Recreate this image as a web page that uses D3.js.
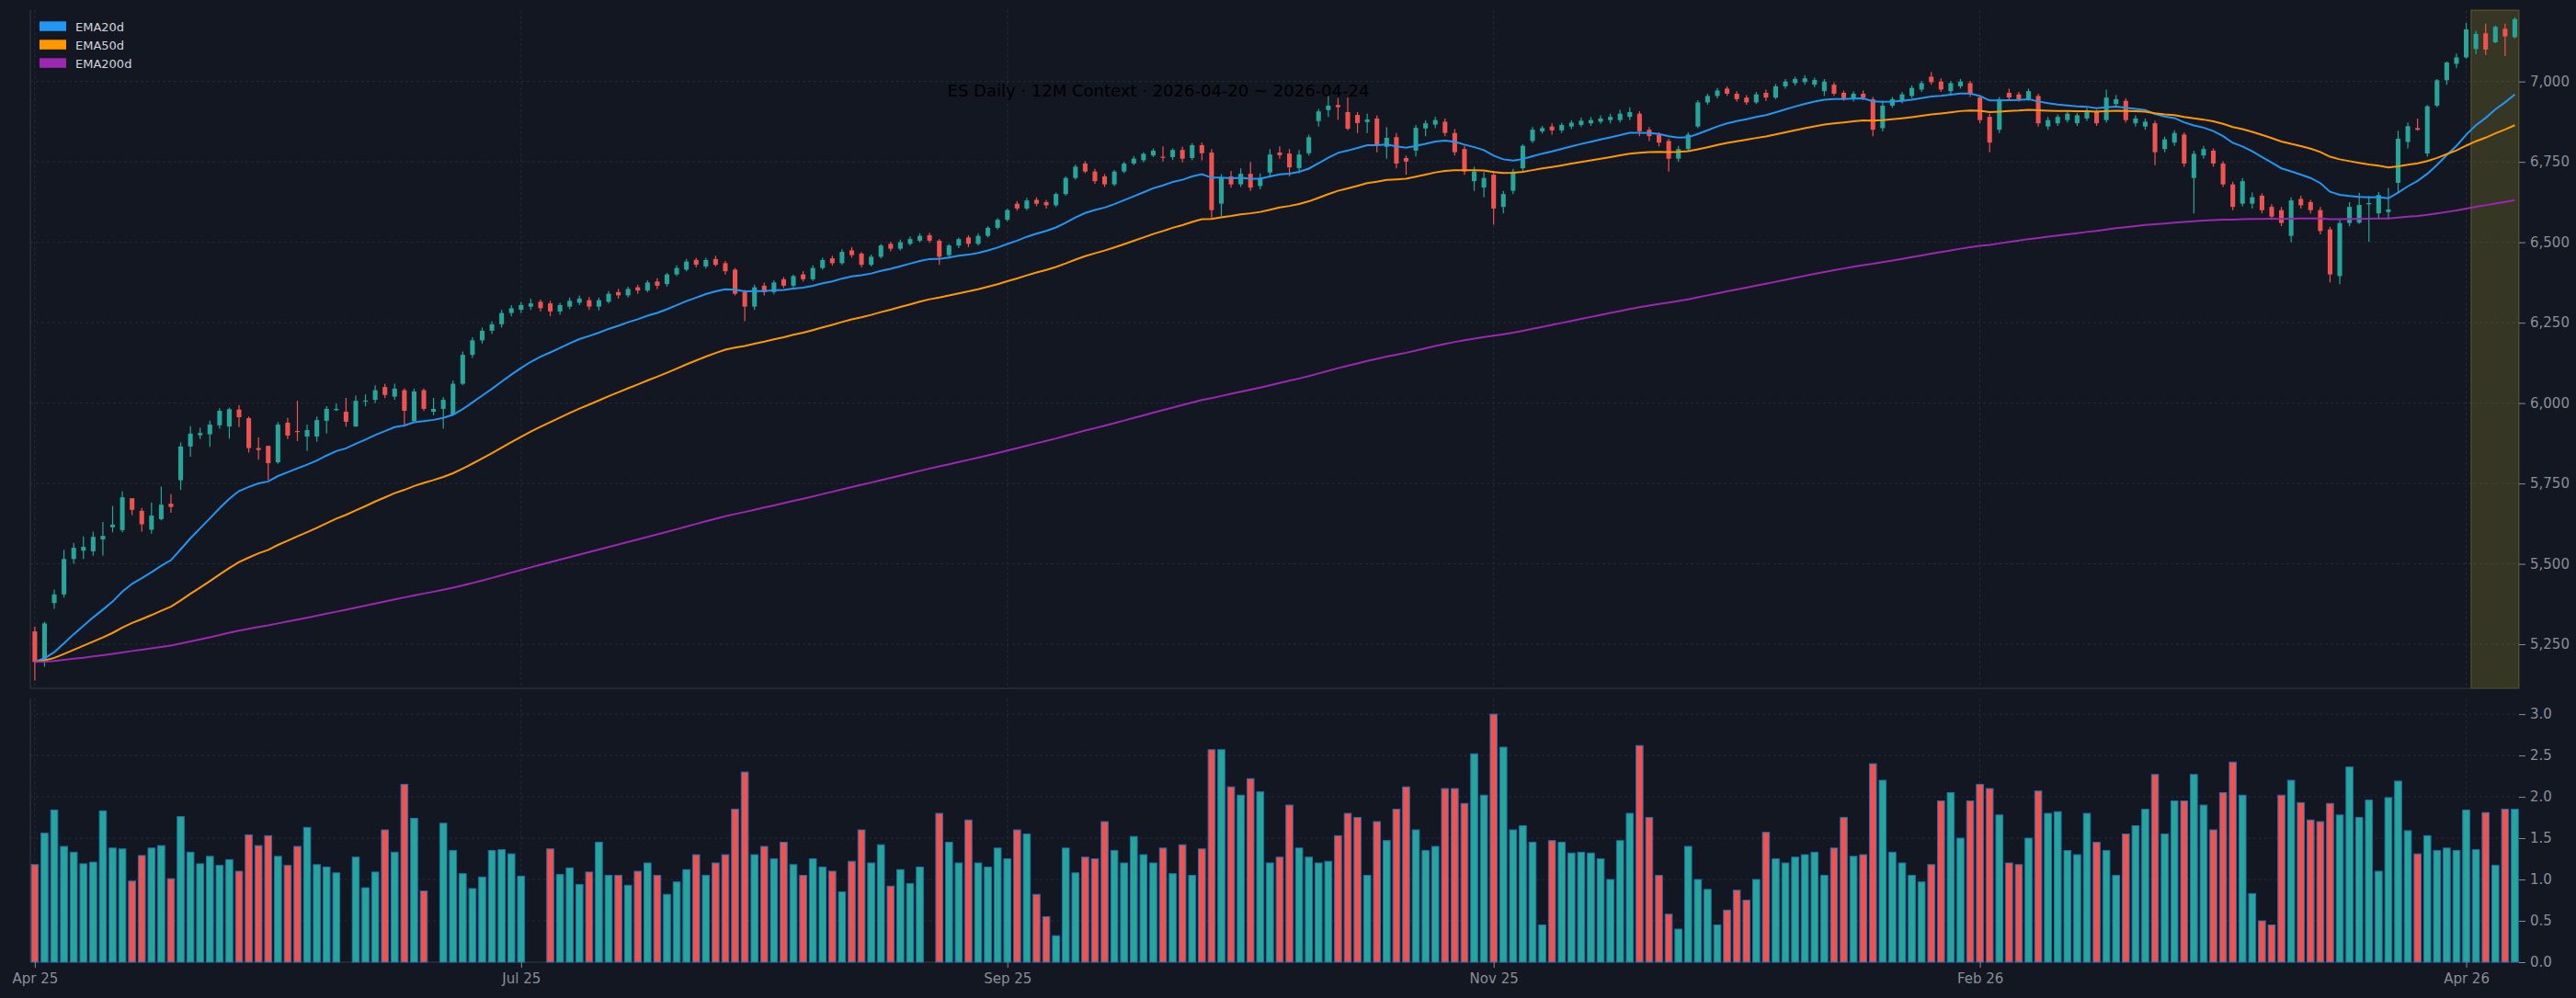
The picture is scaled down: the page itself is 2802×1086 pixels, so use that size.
<!DOCTYPE html>
<html>
<head>
<meta charset="utf-8">
<script src="https://cdn.jsdelivr.net/npm/d3@7"></script>
<style>
  body { margin: 0; background: #131722; }
  svg { display: block; font-family: "DejaVu Sans", sans-serif; }
</style>
</head>
<body>
<script>
// ES daily bars, oldest first (index 0 .. 255)
const open = [
  5290,5195,5378,5405,5515,5541,5539,5576,5614,5605,5704,5665,5606,5639,5687,5760,
  5865,5900,5903,5931,5927,5980,5953,5860,5867,5816,5939,5913,5896,5896,5945,5978,
  5973,5927,6005,6010,6050,6020,6040,5944,6040,5973,5982,5964,6060,6150,6195,6225,
  6245,6280,6290,6300,6315,6310,6285,6300,6312,6320,6300,6315,6345,6335,6360,6350,
  6378,6370,6400,6415,6445,6425,6448,6435,6415,6345,6300,6365,6345,6385,6365,6400,
  6385,6420,6450,6435,6475,6465,6430,6455,6495,6480,6495,6505,6522,6505,6460,6490,
  6515,6495,6520,6545,6570,6620,6605,6632,6625,6615,6650,6700,6745,6720,6705,6680,
  6720,6745,6755,6770,6766,6765,6787,6762,6802,6779,6620,6705,6680,6713,6675,6717,
  6779,6776,6731,6777,6877,6911,6927,6905,6896,6874,6885,6797,6827,6762,6785,6854,
  6866,6875,6840,6790,6690,6670,6710,6610,6660,6730,6815,6845,6860,6848,6860,6865,
  6870,6875,6880,6880,6890,6900,6850,6835,6815,6760,6790,6860,6935,6955,6978,6962,
  6950,6935,6965,6950,6985,6995,6998,6990,6970,6990,6965,6945,6962,6945,6855,6925,
  6940,6955,6975,7015,7000,6970,6985,6995,6950,6890,6850,6965,6960,6945,6955,6860,
  6870,6880,6870,6885,6905,6880,6930,6940,6870,6860,6870,6790,6810,6835,6700,6770,
  6785,6745,6680,6620,6620,6645,6610,6600,6520,6635,6625,6600,6540,6395,6560,6561,
  6618,6590,6594,6685,6812,6855,6776,6925,7004,7055,7075,7101,7150,7122,7164,7138
];
const high = [
  5305,5320,5420,5544,5565,5585,5600,5630,5680,5725,5704,5674,5690,5740,5717,5878,
  5928,5923,5945,5984,5986,5994,5958,5893,5867,5941,5954,6007,5933,5958,5990,5999,
  6016,6023,6027,6055,6060,6060,6045,6045,6045,6016,6018,6070,6160,6205,6235,6255,
  6290,6305,6315,6325,6322,6318,6312,6328,6335,6330,6328,6348,6355,6362,6368,6382,
  6388,6405,6428,6448,6452,6452,6458,6442,6420,6352,6368,6375,6382,6392,6400,6410,
  6428,6452,6458,6478,6485,6470,6462,6495,6502,6508,6518,6528,6530,6510,6495,6515,
  6522,6528,6550,6575,6605,6628,6638,6640,6632,6655,6705,6742,6752,6728,6712,6725,
  6750,6768,6780,6792,6798,6792,6797,6808,6810,6790,6712,6722,6730,6750,6714,6790,
  6798,6790,6787,6835,6915,6955,6949,6950,6905,6900,6895,6858,6840,6770,6865,6880,
  6890,6885,6852,6800,6735,6718,6722,6660,6728,6805,6858,6862,6870,6872,6880,6888,
  6890,6895,6900,6912,6920,6908,6858,6842,6822,6800,6842,6942,6962,6980,6985,6970,
  6958,6968,6975,6992,7008,7015,7020,7012,7008,6998,6972,6970,6972,6952,6940,6952,
  6968,6988,7002,7030,7010,7002,7008,7002,6958,6900,6952,6978,6968,6978,6962,6890,
  6898,6908,6902,6918,6912,6975,6958,6948,6895,6885,6878,6828,6848,6842,6785,6800,
  6792,6752,6688,6700,6655,6652,6618,6610,6640,6645,6632,6610,6548,6570,6625,6654,
  6644,6656,6669,6847,6873,6885,6927,7008,7063,7087,7182,7158,7180,7174,7180,7200
];
const low = [
  5137,5180,5360,5395,5500,5515,5525,5525,5598,5598,5652,5600,5594,5635,5659,5730,
  5833,5888,5864,5920,5889,5925,5846,5824,5760,5811,5888,5882,5851,5880,5905,5975,
  5927,5927,5990,6000,6015,6010,5927,5940,5975,5962,5920,5960,6055,6140,6185,6215,
  6235,6270,6280,6290,6285,6270,6275,6292,6305,6290,6288,6310,6325,6328,6340,6345,
  6355,6362,6395,6410,6422,6418,6425,6400,6335,6255,6290,6335,6338,6358,6360,6378,
  6380,6415,6428,6430,6452,6422,6425,6450,6472,6475,6490,6500,6498,6430,6450,6482,
  6485,6490,6515,6540,6565,6598,6600,6612,6605,6610,6645,6695,6715,6682,6672,6675,
  6715,6740,6748,6765,6751,6756,6748,6755,6755,6575,6580,6670,6672,6660,6665,6705,
  6760,6705,6715,6770,6860,6890,6881,6848,6840,6840,6780,6760,6730,6710,6767,6830,
  6855,6830,6770,6710,6660,6640,6555,6590,6650,6722,6808,6838,6835,6840,6852,6858,
  6862,6868,6870,6872,6880,6830,6815,6798,6720,6750,6782,6855,6928,6948,6955,6938,
  6928,6930,6940,6945,6978,6988,6990,6982,6955,6955,6940,6938,6942,6830,6845,6918,
  6932,6948,6968,6990,6968,6962,6978,6952,6870,6780,6840,6942,6938,6940,6860,6850,
  6862,6872,6862,6878,6862,6872,6922,6872,6860,6850,6740,6780,6800,6735,6590,6760,
  6735,6672,6600,6612,6605,6590,6570,6550,6500,6605,6590,6525,6375,6370,6550,6557,
  6501,6571,6571,6654,6792,6847,6766,6920,6990,7041,7071,7085,7083,7119,7079,7134
];
const close = [
  5195,5315,5405,5515,5550,5553,5584,5587,5622,5707,5668,5623,5650,5684,5677,5865,
  5905,5907,5933,5976,5981,5956,5860,5854,5813,5933,5899,5910,5916,5947,5982,5982,
  5942,6007,6008,6040,6025,6045,5976,6036,5982,5982,6010,6060,6150,6195,6225,6245,
  6280,6295,6305,6310,6295,6285,6305,6318,6325,6300,6320,6340,6335,6355,6350,6375,
  6365,6400,6420,6440,6430,6445,6430,6410,6340,6300,6360,6345,6375,6365,6395,6385,
  6420,6445,6435,6470,6460,6430,6455,6490,6480,6500,6510,6520,6505,6455,6490,6510,
  6495,6520,6545,6570,6600,6605,6630,6620,6615,6650,6700,6735,6720,6690,6680,6720,
  6745,6760,6775,6785,6764,6787,6760,6802,6777,6600,6700,6680,6713,6670,6700,6773,
  6771,6733,6773,6827,6907,6925,6920,6853,6871,6882,6801,6825,6745,6751,6856,6870,
  6880,6840,6780,6720,6720,6700,6605,6650,6720,6800,6850,6855,6848,6865,6872,6878,
  6880,6885,6890,6900,6905,6845,6830,6810,6760,6790,6835,6935,6955,6972,6962,6945,
  6935,6960,6950,6985,7000,7008,7010,7005,7000,6962,6948,6962,6950,6850,6925,6945,
  6960,6980,6995,6998,6975,6995,7000,6960,6880,6810,6945,6950,6945,6970,6870,6880,
  6890,6900,6895,6910,6870,6950,6945,6880,6885,6875,6780,6820,6840,6745,6775,6790,
  6745,6680,6610,6690,6640,6600,6580,6560,6630,6615,6600,6535,6400,6560,6610,6616,
  6622,6647,6602,6822,6861,6850,6923,7004,7059,7075,7162,7148,7099,7170,7140,7194
];
// volume in millions, null where the feed has no value
const volume = [
  1.18,1.56,1.84,1.40,1.33,1.19,1.21,1.83,1.38,1.37,0.98,1.29,1.38,1.41,1.01,1.76,
  1.33,1.19,1.28,1.17,1.24,1.10,1.54,1.41,1.53,1.28,1.17,1.40,1.63,1.18,1.15,1.08,
  null,1.27,0.90,1.09,1.60,1.33,2.15,1.74,0.86,null,1.68,1.35,1.07,0.89,1.03,1.35,
  1.36,1.31,1.04,null,null,1.37,1.06,1.14,0.94,1.09,1.45,1.05,1.05,0.93,1.10,1.20,
  1.05,0.82,0.97,1.12,1.30,1.05,1.20,1.30,1.85,2.30,1.30,1.40,1.25,1.45,1.18,1.05,
  1.25,1.15,1.10,0.85,1.22,1.60,1.20,1.42,0.92,1.12,0.95,1.15,null,1.80,1.45,1.20,
  1.72,1.20,1.15,1.38,1.25,1.60,1.55,0.82,0.55,0.32,1.38,1.08,1.27,1.25,1.70,1.35,
  1.20,1.52,1.30,1.20,1.38,1.07,1.42,1.05,1.37,2.57,2.57,2.12,2.02,2.22,2.06,1.20,
  1.27,1.90,1.38,1.27,1.20,1.22,1.53,1.80,1.75,1.05,1.70,1.47,1.85,2.12,1.60,1.35,
  1.40,2.10,2.10,1.92,2.52,2.02,3.00,2.60,1.60,1.65,1.45,0.45,1.47,1.45,1.32,1.33,
  1.32,1.25,1.00,1.47,1.80,2.62,1.75,1.05,0.58,0.40,1.40,1.00,0.88,0.45,0.63,0.87,
  0.75,1.00,1.57,1.25,1.20,1.27,1.30,1.33,1.05,1.38,1.75,1.28,1.30,2.40,2.20,1.33,
  1.20,1.05,0.97,1.18,1.95,2.05,1.50,1.95,2.15,2.10,1.78,1.20,1.18,1.50,2.07,1.80,
  1.82,1.35,1.30,1.80,1.45,1.35,1.05,1.55,1.65,1.85,2.27,1.55,1.95,1.95,2.27,1.90,
  1.60,2.05,2.42,2.02,0.83,0.50,0.45,2.02,2.20,1.93,1.72,1.70,1.92,1.78,2.36,1.75,
  1.96,1.10,1.99,2.19,1.59,1.31,1.53,1.35,1.38,1.35,1.84,1.36,1.81,1.17,1.85,1.85
];

const xTickIdx = [0, 50, 100, 150, 200, 250];
const xTickLabels = ["Apr 25", "Jul 25", "Sep 25", "Nov 25", "Feb 26", "Apr 26"];
const priceTicks = [5250, 5500, 5750, 6000, 6250, 6500, 6750, 7000];
const volTicks = [0, 0.5, 1.0, 1.5, 2.0, 2.5, 3.0];
const emaSpans = [20, 50, 200];
const emaNames = ["EMA20d", "EMA50d", "EMA200d"];
const emaColors = ["#2196f3", "#ff9800", "#9c27b0"];
const weekStart = 250.5; // highlighted week: 2026-04-20 .. 2026-04-24

const W = 2802, H = 1086;
const UP = "#26a69a", DOWN = "#ef5350";

// exponential average, seeded with the first close
function ema(values, span) {
  const a = 2 / (span + 1);
  const out = [];
  values.forEach((v, i) => out.push(i === 0 ? v : a * v + (1 - a) * out[i - 1]));
  return out;
}

const svg = d3.select("body").append("svg")
  .attr("width", W)
  .attr("height", H)
  .style("background", "#131722");

const x = d3.scaleLinear().domain([-0.46, 255.43]).range([33, 2740]);
const yP = d3.scaleLinear().domain([5113, 7222]).range([749, 11]);
const yV = d3.scaleLinear().domain([0, 3.19]).range([1047, 760]);
const step = x(1) - x(0);

// grid
const grid = svg.append("g")
  .attr("stroke", "#262b37")
  .attr("stroke-dasharray", "3,3")
  .attr("stroke-width", 1);
grid.selectAll(".hp").data(priceTicks).join("line")
  .attr("x1", 33).attr("x2", 2740)
  .attr("y1", d => yP(d)).attr("y2", d => yP(d));
grid.selectAll(".hv").data(volTicks.slice(1)).join("line")
  .attr("x1", 33).attr("x2", 2740)
  .attr("y1", d => yV(d)).attr("y2", d => yV(d));
grid.selectAll(".vp").data(xTickIdx).join("line")
  .attr("x1", d => x(d)).attr("x2", d => x(d))
  .attr("y1", 11).attr("y2", 749);
grid.selectAll(".vv").data(xTickIdx).join("line")
  .attr("x1", d => x(d)).attr("x2", d => x(d))
  .attr("y1", 760).attr("y2", 1047);

// current week band
svg.append("rect")
  .attr("x", x(weekStart))
  .attr("y", 11)
  .attr("width", 2740 - x(weekStart))
  .attr("height", 749 - 11)
  .attr("fill", "#ffeb3b")
  .attr("fill-opacity", 0.15)
  .attr("stroke", "#ffeb3b")
  .attr("stroke-opacity", 0.25);

// spines
svg.append("g").attr("stroke", "#363a45").attr("stroke-width", 1)
  .call(g => {
    g.append("line").attr("x1", 33).attr("x2", 33).attr("y1", 11).attr("y2", 749);
    g.append("line").attr("x1", 33).attr("x2", 2740).attr("y1", 749).attr("y2", 749);
    g.append("line").attr("x1", 33).attr("x2", 33).attr("y1", 760).attr("y2", 1047);
    g.append("line").attr("x1", 33).attr("x2", 2740).attr("y1", 1047).attr("y2", 1047);
  });

const bars = close.map((c, i) => ({
  i, o: open[i], h: high[i], l: low[i], c, v: volume[i], up: c >= open[i]
}));

// candles
const candles = svg.append("g");
candles.selectAll("line").data(bars).join("line")
  .attr("x1", d => x(d.i)).attr("x2", d => x(d.i))
  .attr("y1", d => yP(d.h)).attr("y2", d => yP(d.l))
  .attr("stroke", d => d.up ? UP : DOWN)
  .attr("stroke-width", 1.2);
candles.selectAll("rect").data(bars).join("rect")
  .attr("x", d => x(d.i) - step * 0.24)
  .attr("width", step * 0.48)
  .attr("y", d => yP(Math.max(d.o, d.c)))
  .attr("height", d => Math.max(1.2, Math.abs(yP(d.o) - yP(d.c))))
  .attr("fill", d => d.up ? UP : DOWN);

// moving averages
const line = d3.line().x((d, i) => x(i)).y(d => yP(d));
emaSpans.forEach((s, k) => {
  svg.append("path")
    .datum(ema(close, s))
    .attr("d", line)
    .attr("fill", "none")
    .attr("stroke", emaColors[k])
    .attr("stroke-width", 2);
});

// volume
svg.append("g").selectAll("rect")
  .data(bars.filter(d => d.v != null))
  .join("rect")
  .attr("x", d => x(d.i) - step * 0.36)
  .attr("width", step * 0.72)
  .attr("y", d => yV(d.v))
  .attr("height", d => yV(0) - yV(d.v))
  .attr("fill", d => d.up ? UP : DOWN)
  .attr("stroke", "#1f6fb4")
  .attr("stroke-width", 1);

// axes
function styleAxis(g) {
  g.select(".domain").remove();
  g.selectAll(".tick line").attr("stroke", "#8a8e97");
  g.selectAll(".tick text").attr("fill", "#8a8e97")
    .style("font-size", "15px").style("font-family", "DejaVu Sans");
}
svg.append("g")
  .attr("transform", "translate(2740,0)")
  .call(d3.axisRight(yP).tickValues(priceTicks).tickSize(7).tickPadding(5))
  .call(styleAxis);
svg.append("g")
  .attr("transform", "translate(2740,0)")
  .call(d3.axisRight(yV).tickValues(volTicks).tickSize(7).tickPadding(5)
    .tickFormat(d3.format(".1f")))
  .call(styleAxis);
svg.append("g")
  .attr("transform", "translate(0,1047)")
  .call(d3.axisBottom(x).tickValues(xTickIdx).tickSize(6).tickPadding(6)
    .tickFormat((d, i) => xTickLabels[i]))
  .call(styleAxis);

// title (drawn in black, as in the source)
svg.append("text")
  .attr("x", 1260).attr("y", 105)
  .attr("text-anchor", "middle")
  .attr("fill", "#000000")
  .style("font-size", "18px")
  .text("ES Daily · 12M Context · 2026-04-20 ~ 2026-04-24");

// legend
const legend = svg.append("g");
emaNames.forEach((n, k) => {
  legend.append("rect")
    .attr("x", 43).attr("y", 23.3 + k * 20)
    .attr("width", 29).attr("height", 10.5)
    .attr("fill", emaColors[k]);
  legend.append("text")
    .attr("x", 82).attr("y", 33.5 + k * 20)
    .attr("fill", "#d1d4dc")
    .style("font-size", "13px")
    .text(n);
});
</script>
</body>
</html>
